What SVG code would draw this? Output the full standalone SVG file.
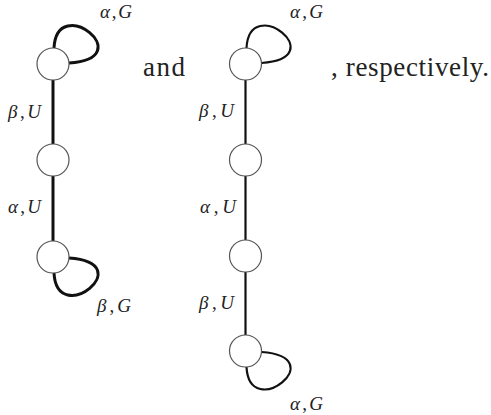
<svg xmlns="http://www.w3.org/2000/svg" xmlns:xlink="http://www.w3.org/1999/xlink" width="491" height="415" viewBox="0 0 491 415">
<style>
.node{fill:#fff;stroke:#555;stroke-width:1.2}
.eL{stroke:#111;stroke-width:3;fill:none}
.eR{stroke:#111;stroke-width:2.2;fill:none}
.lbl{font-family:"Liberation Serif","DejaVu Serif",serif;font-size:19px;fill:#222}
.it{font-style:italic}
.txt{font-family:"Liberation Serif","DejaVu Serif",serif;font-size:27px;fill:#222}
</style>
<defs>
<path id="loop" d="M 1,-16 C 4,-72 88,-6 16,-1"/>
</defs>
<rect width="491" height="415" fill="#fff"/>
<g id="connectors">
<line class="eL" x1="53" y1="80" x2="53" y2="144"/>
<line class="eL" x1="53" y1="176" x2="53" y2="241"/>
<use class="eL" xlink:href="#loop" href="#loop" transform="translate(53,64)"/>
<use class="eL" xlink:href="#loop" href="#loop" transform="translate(53,257) scale(1,-1)"/>
<line class="eR" x1="245.5" y1="80" x2="245.5" y2="144"/>
<line class="eR" x1="245.5" y1="176" x2="245.5" y2="240"/>
<line class="eR" x1="245.5" y1="272" x2="245.5" y2="335"/>
<use class="eR" xlink:href="#loop" href="#loop" transform="translate(245.5,64)"/>
<use class="eR" xlink:href="#loop" href="#loop" transform="translate(245.5,351) scale(1,-1)"/>
<text class="lbl" x="100" y="18" textLength="32"><tspan class="it">α</tspan>,<tspan class="it">G</tspan></text>
<text class="lbl" x="8" y="118" textLength="33"><tspan class="it">β</tspan>,<tspan class="it">U</tspan></text>
<text class="lbl" x="8" y="213" textLength="33"><tspan class="it">α</tspan>,<tspan class="it">U</tspan></text>
<text class="lbl" x="97" y="312" textLength="34"><tspan class="it">β</tspan>,<tspan class="it">G</tspan></text>
<text class="lbl" x="290" y="18" textLength="33"><tspan class="it">α</tspan>,<tspan class="it">G</tspan></text>
<text class="lbl" x="199" y="117" textLength="35"><tspan class="it">β</tspan>,<tspan class="it">U</tspan></text>
<text class="lbl" x="200" y="213" textLength="36"><tspan class="it">α</tspan>,<tspan class="it">U</tspan></text>
<text class="lbl" x="199" y="309" textLength="35"><tspan class="it">β</tspan>,<tspan class="it">U</tspan></text>
<text class="lbl" x="290" y="410" textLength="33"><tspan class="it">α</tspan>,<tspan class="it">G</tspan></text>
</g>
<g id="nL1"><circle class="node" cx="53" cy="64" r="16"/></g>
<g id="nL2"><circle class="node" cx="53" cy="160" r="16"/></g>
<g id="nL3"><circle class="node" cx="53" cy="257" r="16"/></g>
<g id="nR1"><circle class="node" cx="245.5" cy="64" r="16"/></g>
<g id="nR2"><circle class="node" cx="245.5" cy="160" r="16"/></g>
<g id="nR3"><circle class="node" cx="245.5" cy="256" r="16"/></g>
<g id="nR4"><circle class="node" cx="245.5" cy="351" r="16"/></g>
<text class="txt" x="143" y="76" textLength="42">and</text>
<text class="txt" x="331" y="76" textLength="158">, respectively.</text>
</svg>
